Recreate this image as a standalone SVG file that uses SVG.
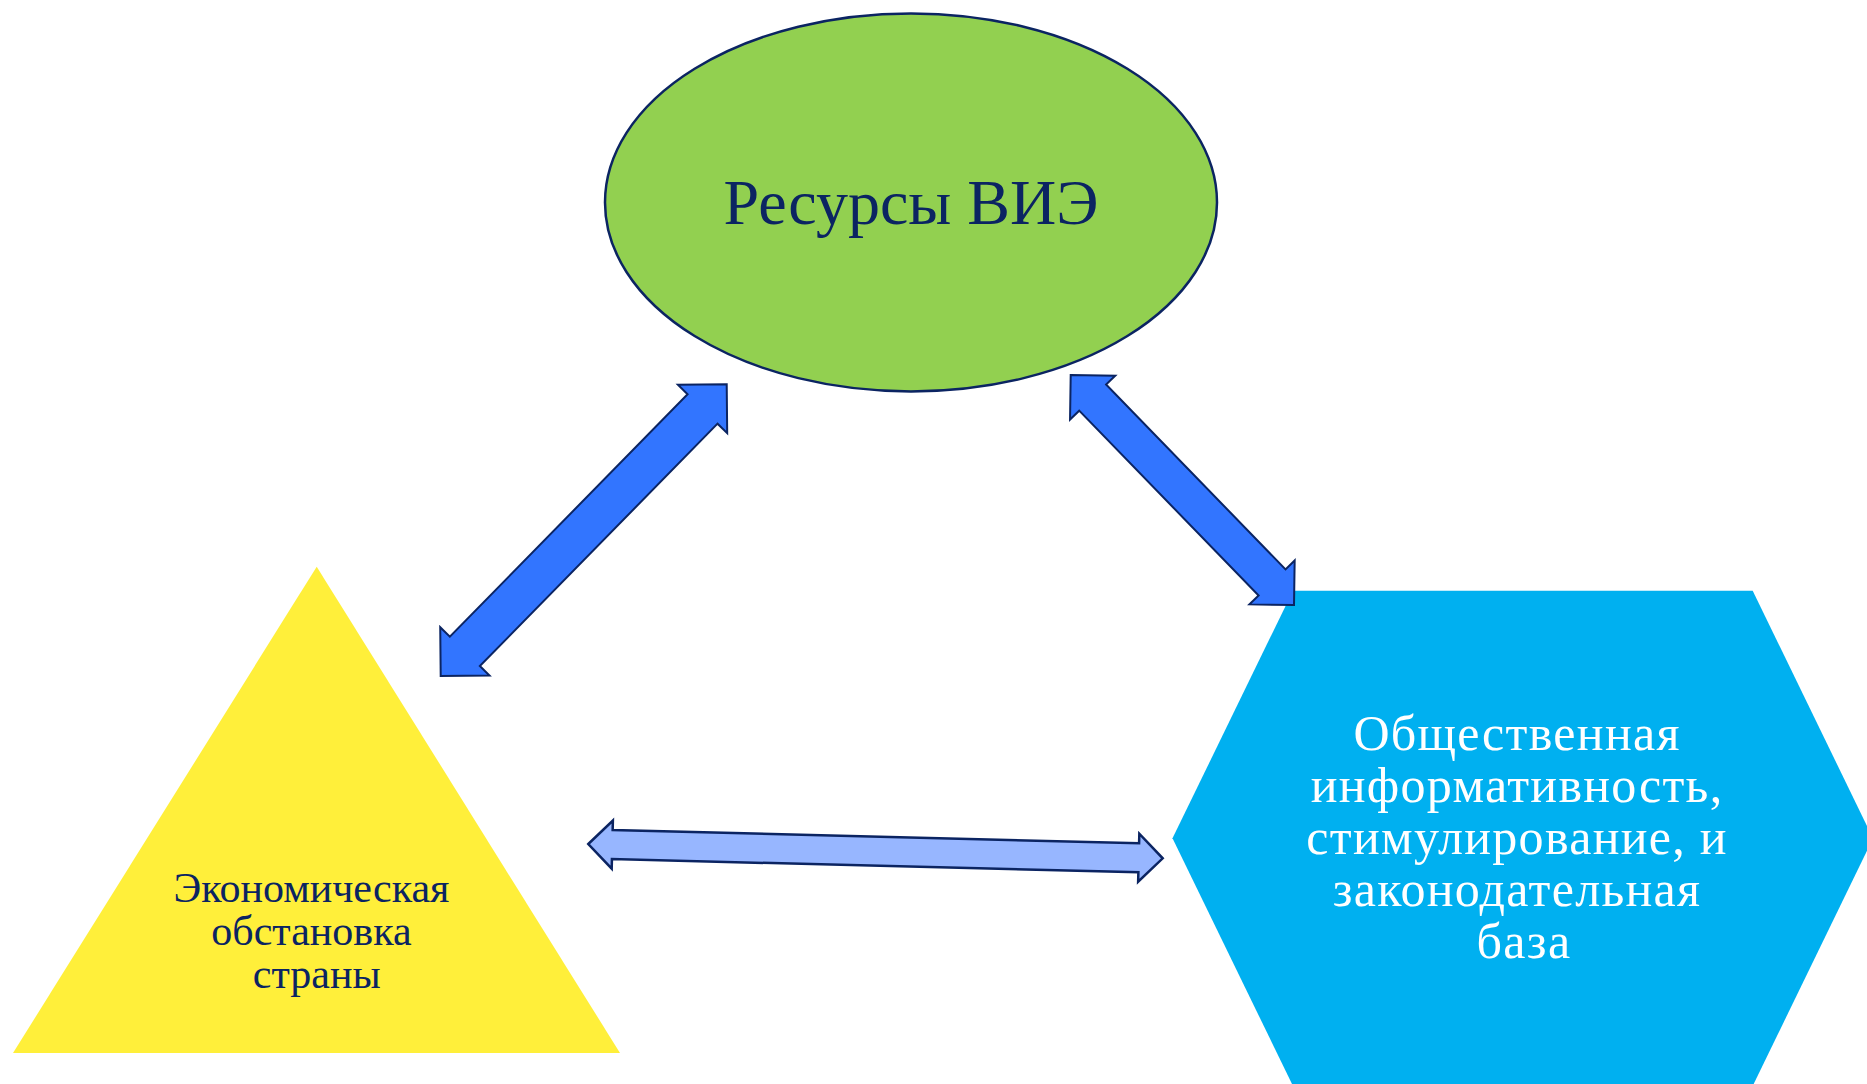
<svg xmlns="http://www.w3.org/2000/svg" width="1867" height="1084" viewBox="0 0 1867 1084">
  <style>
    .dark { font-family: "Liberation Serif", "Times New Roman", serif; fill: #0B2462; text-anchor: middle; }
    .light { font-family: "Liberation Serif", "Times New Roman", serif; fill: #FFFFFF; text-anchor: middle; }
    .arrow { fill: #3275FF; stroke: #0B2462; stroke-width: 2; stroke-linejoin: miter; }
    .arrow-light { fill: #97B6FF; stroke: #0B2462; stroke-width: 2.5; stroke-linejoin: miter; }
  </style>
  <rect width="1867" height="1084" fill="#FFFFFF"/>

  <g id="node-resources">
    <ellipse cx="911" cy="202.4" rx="306" ry="189" fill="#92D050" stroke="#0B2462" stroke-width="2.5"/>
    <text class="dark" x="911" y="224" font-size="64">Ресурсы ВИЭ</text>
  </g>

  <g id="node-economy">
    <polygon points="316.7,566.7 620,1053 13,1053" fill="#FFEF3A"/>
    <text class="dark" font-size="42">
      <tspan x="316.7" y="902">Экономическая</tspan>
      <tspan x="316.7" y="945">обстановка</tspan>
      <tspan x="316.7" y="988">страны</tspan>
    </text>
  </g>

  <g id="node-society">
    <polygon points="1293,590.7 1752.7,590.7 1873,838.3 1752.7,1086 1293,1086 1172.5,838.3" fill="#00B0F0"/>
    <text class="light" font-size="50" letter-spacing="1.3">
      <tspan x="1524" y="750">Общественная</tspan>
      <tspan x="1524" y="802">информативность,</tspan>
      <tspan x="1524" y="854">стимулирование, и</tspan>
      <tspan x="1524" y="906">законодательная</tspan>
      <tspan x="1524" y="958">база</tspan>
    </text>
  </g>

  <g id="connectors">
    <path class="arrow" transform="translate(440.7,676) rotate(-45.56)" d="M0,0 L34.5,-34.5 L34.5,-21 L374,-21 L374,-34.5 L408.5,0 L374,34.5 L374,21 L34.5,21 L34.5,34.5 Z"/>
    <path class="arrow" transform="translate(1070.7,375) rotate(45.85)" d="M0,0 L31.5,-31.5 L31.5,-18.75 L289.1,-18.75 L289.1,-31.5 L320.6,0 L289.1,31.5 L289.1,18.75 L31.5,18.75 L31.5,31.5 Z"/>
    <path class="arrow-light" transform="translate(588.3,844) rotate(1.426)" d="M0,0 L24,-24 L24,-14.5 L550.6,-14.5 L550.6,-24 L574.6,0 L550.6,24 L550.6,14.5 L24,14.5 L24,24 Z"/>
  </g>
</svg>
